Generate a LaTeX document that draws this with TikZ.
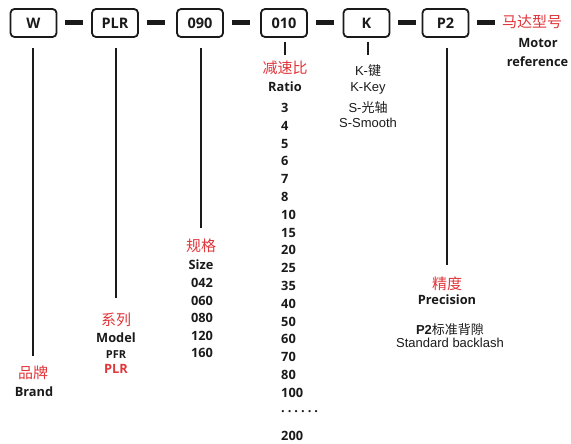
\documentclass[tikz,border=0pt]{standalone}
\usepackage{fontspec}
\setmainfont{Open Sans}
\newfontfamily\cjk{Noto Sans CJK SC}
\newfontfamily\arialf{Liberation Sans}
\definecolor{cred}{HTML}{E0353A}
\definecolor{ctxt}{HTML}{1A1A1A}
\begin{document}
\begin{tikzpicture}[x=1pt,y=-1pt,
  codebox/.style={draw=ctxt,line width=1.8pt,rounded corners=4pt,minimum width=46pt,minimum height=28pt,inner sep=0pt,font=\fontsize{14.5}{16}\selectfont\bfseries,text=ctxt},
  bar/.style={line width=5pt,draw=ctxt},
  vline/.style={line width=2pt,draw=ctxt},
  cn/.style={inner sep=0pt,font=\fontsize{15}{17}\cjk,text=cred},
  en/.style={inner sep=0pt,font=\fontsize{12.8}{15}\selectfont\bfseries,text=ctxt},
  ar/.style={inner sep=0pt,font=\fontsize{13}{15}\arialf,text=ctxt},
  num/.style={inner sep=0pt,anchor=west,font=\fontsize{12.8}{15}\selectfont\bfseries,text=ctxt}]
\useasboundingbox (0,0) rectangle (571,444);
% boxes
\node[codebox] (bW) at (33.5,23) {W};
\node[codebox] (bPLR) at (115,23) {PLR};
\node[codebox] (b090) at (200,23) {090};
\node[codebox] (b010) at (284,23) {010};
\node[codebox] (bK) at (366.5,23) {K};
\node[codebox] (bP2) at (445.5,23) {P2};
% bars
\draw[bar] (bW.east) ++(8,0) -- ++(18,0);
\draw[bar] (bPLR.east) ++(8,0) -- ++(18,0);
\draw[bar] (b090.east) ++(8,0) -- ++(18,0);
\draw[bar] (b010.east) ++(8,0) -- ++(18,0);
\draw[bar] (bK.east) ++(8,0) -- ++(18,0);
\draw[bar] (bP2.east) ++(8,0) -- ++(18,0);
% motor
\node[cn,anchor=west] (motor) at (502,22) {马达型号};
\node[en] (motorEn) at (538,43) {Motor};
\node[en] (motorRef) at (537.5,62) {reference};
% vertical lines
\coordinate (wEnd) at (33,356);
\coordinate (plrEnd) at (116,298);
\coordinate (sizeEnd) at (201,228);
\coordinate (ratioEnd) at (285,55);
\coordinate (keyEnd) at (368,55);
\coordinate (precEnd) at (447,265);
\draw[vline] (33,48) -- (wEnd);
\draw[vline] (116,48) -- (plrEnd);
\draw[vline] (201,48) -- (sizeEnd);
\draw[vline] (285,42) -- (ratioEnd);
\draw[vline] (368,42) -- (keyEnd);
\draw[vline] (447,48) -- (precEnd);
% brand
\node[cn] (brandCn) at (33,373) {品牌};
\node[en] (brandEn) at (34,392) {Brand};
% model
\node[cn] (modelCn) at (116,320) {系列};
\node[en] (modelEn) at (116,338) {Model};
\node[en,font=\fontsize{11}{13}\selectfont\bfseries] (pfr) at (116,355) {PFR};
\node[en,text=cred] (plr) at (116,369) {PLR};
% size
\node[cn] (sizeCn) at (201,246) {规格};
\node[en] (sizeEn) at (201,265) {Size};
\foreach \v [count=\i from 0] in {042,060,080,120,160}
  \node[en] (s\i) at (202,283+17.6*\i) {\v};
% ratio
\node[cn] (ratioCn) at (285,68) {减速比};
\node[en] (ratioEn) at (285,87) {Ratio};
\foreach \v [count=\i from 0] in {3,4,5,6,7,8,10,15,20,25,35,40,50,60,70,80,100}
  \node[num] (r\i) at (281,108+17.8*\i) {\v};
\node[num] (rdots) at (281,412) {.\hspace{3pt}.\hspace{3pt}.\hspace{3pt}.\hspace{3pt}.\hspace{3pt}.};
\node[num] (r200) at (281,436) {200};
% key
\node[ar] (keyCn) at (368,71) {K-{\cjk 键}};
\node[ar] (keyEn) at (368,88) {K-Key};
\node[ar] (smCn) at (368,108) {S-{\cjk 光轴}};
\node[ar] (smEn) at (368,123) {S-Smooth};
% precision
\node[cn] (precCn) at (447,284) {精度};
\node[en] (precEn) at (447,300) {Precision};
\node[ar] (p2Cn) at (450,330) {\textbf{P2}{\cjk 标准背隙}};
\node[ar] (p2En) at (450,343) {Standard backlash};
\end{tikzpicture}
\end{document}
